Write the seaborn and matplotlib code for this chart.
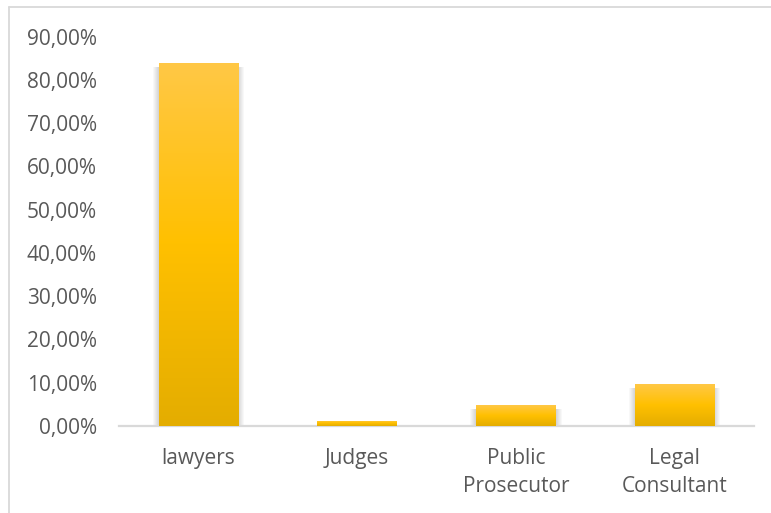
import numpy as np
import pandas as pd
import matplotlib
matplotlib.use("Agg")
import matplotlib.pyplot as plt
from matplotlib.colors import LinearSegmentedColormap
from matplotlib.patches import Rectangle
from matplotlib.lines import Line2D
from matplotlib.ticker import FuncFormatter
import seaborn as sns

# Share of respondents by legal profession
categories = ["lawyers", "Judges", "Public\nProsecutor", "Legal\nConsultant"]
shares = [0.840, 0.012, 0.048, 0.097]

y_ticks = [0.0, 0.1, 0.2, 0.3, 0.4, 0.5, 0.6, 0.7, 0.8, 0.9]

sns.set_theme(style="white")
plt.rcParams["font.family"] = ["Open Sans", "DejaVu Sans"]

TEXT = "#595959"
LINE = "#D9D9D9"

df = pd.DataFrame({"profession": categories, "share": shares})

fig = plt.figure(figsize=(7.71, 5.13), dpi=100)
ax = fig.add_axes([119 / 771, (513 - 426) / 513, (754 - 119) / 771, (426 - 36.7) / 513])

sns.barplot(data=df, x="profession", y="share", ax=ax, width=0.5,
            color="#FFC000", saturation=1, edgecolor="none", zorder=3)

ax.set_ylim(0, 0.9)
ax.set_xlim(-0.5, len(categories) - 0.5)

# gold gradient: light at the top, darker at the base
gold = LinearSegmentedColormap.from_list(
    "gold", [(0.0, "#FFC846"), (0.5, "#FFC000"), (1.0, "#E4AD00")])
grad = gold(np.linspace(0, 1, 256))[:, None, :]

px_x = 1.0 / 159.0          # one pixel in x data units
px_y = 0.9 / 389.3          # one pixel in y data units

for patch in ax.patches[:]:
    x0, y0 = patch.get_x(), patch.get_y()
    w, h = patch.get_width(), patch.get_height()
    # soft drop shadow, pushed slightly downward
    for k in range(1, 7):
        ax.add_patch(Rectangle((x0 - k * px_x, y0 - (k + 3) * px_y),
                               w + 2 * k * px_x, h + (k - 1) * px_y,
                               facecolor="black", edgecolor="none",
                               alpha=0.028, zorder=1))
    patch.set_facecolor("none")
    img = ax.imshow(grad, extent=(x0, x0 + w, y0, y0 + h), aspect="auto",
                    origin="upper", zorder=3, interpolation="bilinear")
    img.set_clip_path(patch)

ax.set_ylim(0, 0.9)
ax.set_xlim(-0.5, len(categories) - 0.5)

ax.set_yticks(y_ticks)
ax.yaxis.set_major_formatter(
    FuncFormatter(lambda v, _: f"{v * 100:.2f}%".replace(".", ",")))

ax.set_xlabel("")
ax.set_ylabel("")
ax.tick_params(axis="both", length=0, labelsize=15, colors=TEXT)
ax.tick_params(axis="y", pad=16)
ax.tick_params(axis="x", pad=16)
for lbl in ax.get_xticklabels():
    lbl.set_linespacing(1.45)

for side in ["top", "right", "left"]:
    ax.spines[side].set_visible(False)
ax.spines["bottom"].set_color(LINE)
ax.spines["bottom"].set_linewidth(1.6)
ax.spines["bottom"].set_zorder(2)
ax.grid(False)

# chart area frame
fig.add_artist(Line2D([9 / 771, 9 / 771], [0, 1 - 7 / 513],
                      transform=fig.transFigure, color=LINE, lw=1.3))
fig.add_artist(Line2D([9 / 771, 1], [1 - 7 / 513, 1 - 7 / 513],
                      transform=fig.transFigure, color=LINE, lw=1.3))

fig.savefig("out.png", dpi=100)
